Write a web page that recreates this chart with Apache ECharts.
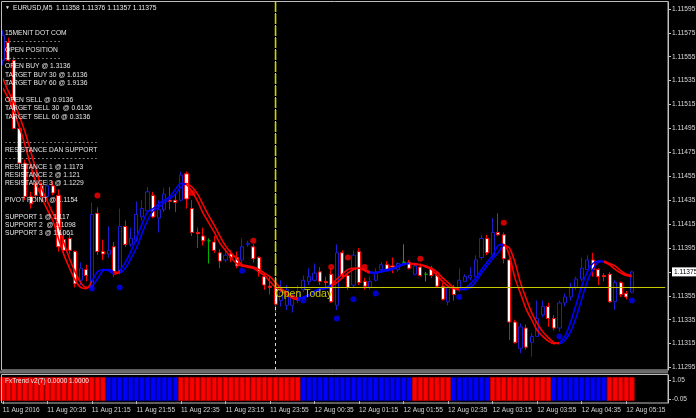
<!DOCTYPE html>
<html><head><meta charset="utf-8">
<script src="https://cdn.jsdelivr.net/npm/echarts@6/dist/echarts.min.js"></script>
<style>html,body{margin:0;padding:0;background:#000;}#c{width:696px;height:418px;}</style>
</head><body><div id="c"></div>
<script>
// ---------- data ----------
const symbolTitle = 'EURUSD,M5  1.11358 1.11376 1.11357 1.11375';
const indicatorTitle = 'FxTrend v2(7) 0.0000 1.0000';
const tickLabels = ['11 Aug 2016','11 Aug 20:35','11 Aug 21:15','11 Aug 21:55','11 Aug 22:35','11 Aug 23:15','11 Aug 23:55','12 Aug 00:35','12 Aug 01:15','12 Aug 01:55','12 Aug 02:35','12 Aug 03:15','12 Aug 03:55','12 Aug 04:35','12 Aug 05:15'];
const priceTicks = [1.11295,1.11315,1.11335,1.11355,1.11375,1.11395,1.11415,1.11435,1.11455,1.11475,1.11495,1.11515,1.11535,1.11555,1.11575,1.11595];
const indicatorTicks = [1.05, -0.05];
const currentPrice = 1.11375;
const openToday = 1.11362;
const openTodayBar = 49;
const firstBarTime = '19:55';
const barCount = 114;

const opens = [
1.11552,1.11567,1.11552,1.11495,1.11466,1.11438,1.11449,1.11447,1.11438,1.11447,
1.11439,1.11402,1.11403,1.11392,1.11368,1.11377,1.11362,1.11424,1.11392,1.11390,
1.11396,1.11375,1.11413,1.11398,1.11402,1.11421,1.11426,1.11439,1.11420,1.11427,
1.11435,1.11435,1.11435,1.11457,1.11428,1.11408,1.11405,1.11401,1.11400,1.11391,
1.11385,1.11390,1.11387,1.11385,1.11398,1.11396,1.11387,1.11371,1.11363,1.11362,
1.11351,1.11347,1.11347,1.11351,1.11360,1.11367,1.11368,1.11375,1.11367,1.11373,
1.11347,1.11391,1.11372,1.11364,1.11392,1.11367,1.11362,1.11368,1.11377,1.11381,
1.11380,1.11377,1.11383,1.11383,1.11373,1.11379,1.11373,1.11378,1.11372,1.11363,
1.11350,1.11362,1.11360,1.11367,1.11370,1.11371,1.11387,1.11403,1.11389,1.11408,
1.11406,1.11385,1.11333,1.11311,1.11328,1.11316,1.11321,1.11339,1.11346,1.11336,
1.11328,1.11349,1.11354,1.11362,1.11369,1.11377,1.11385,1.11377,1.11372,1.11373,
1.11350,1.11366,1.11357,1.11358];
const closes = [
1.11573,1.11552,1.11495,1.11466,1.11438,1.11432,1.11439,1.11438,1.11447,1.11441,
1.11396,1.11393,1.11393,1.11365,1.11378,1.11372,1.11423,1.11392,1.11390,1.11393,
1.11375,1.11413,1.11398,1.11403,1.11423,1.11428,1.11442,1.11421,1.11427,1.11440,
1.11434,1.11433,1.11456,1.11436,1.11408,1.11407,1.11401,1.11401,1.11393,1.11384,
1.11389,1.11387,1.11380,1.11396,1.11399,1.11386,1.11375,1.11364,1.11362,1.11348,
1.11358,1.11360,1.11353,1.11358,1.11368,1.11371,1.11374,1.11367,1.11366,1.11350,
1.11391,1.11372,1.11362,1.11389,1.11366,1.11363,1.11367,1.11375,1.11381,1.11377,
1.11379,1.11382,1.11383,1.11378,1.11380,1.11372,1.11373,1.11372,1.11363,1.11352,
1.11362,1.11356,1.11368,1.11371,1.11372,1.11385,1.11403,1.11391,1.11408,1.11406,
1.11386,1.11333,1.11316,1.11329,1.11312,1.11321,1.11336,1.11346,1.11336,1.11328,
1.11349,1.11354,1.11362,1.11369,1.11378,1.11385,1.11377,1.11371,1.11371,1.11350,
1.11366,1.11356,1.11354,1.11375];
const lows = [
1.11548,1.11551,1.11494,1.11464,1.11435,1.11428,1.11436,1.11433,1.11435,1.11439,
1.11392,1.11389,1.11390,1.11362,1.11364,1.11367,1.11360,1.11389,1.11385,1.11387,
1.11371,1.11373,1.11396,1.11396,1.11400,1.11418,1.11424,1.11420,1.11408,1.11425,
1.11427,1.11425,1.11434,1.11428,1.11405,1.11395,1.11397,1.11382,1.11391,1.11378,
1.11383,1.11383,1.11378,1.11379,1.11396,1.11383,1.11371,1.11360,1.11356,1.11341,
1.11346,1.11343,1.11341,1.11349,1.11358,1.11364,1.11367,1.11364,1.11362,1.11349,
1.11343,1.11370,1.11360,1.11362,1.11364,1.11360,1.11360,1.11367,1.11375,1.11376,
1.11374,1.11375,1.11382,1.11377,1.11372,1.11371,1.11367,1.11370,1.11362,1.11351,
1.11347,1.11351,1.11358,1.11367,1.11368,1.11370,1.11385,1.11389,1.11387,1.11405,
1.11382,1.11318,1.11315,1.11307,1.11310,1.11304,1.11321,1.11337,1.11329,1.11326,
1.11325,1.11346,1.11351,1.11360,1.11367,1.11375,1.11371,1.11364,1.11367,1.11349,
1.11343,1.11354,1.11352,1.11357];
const highs = [
1.11577,1.11571,1.11555,1.11497,1.11469,1.11442,1.11454,1.11450,1.11452,1.11451,
1.11444,1.11410,1.11408,1.11393,1.11383,1.11381,1.11433,1.11429,1.11402,1.11413,
1.11400,1.11428,1.11418,1.11412,1.11434,1.11435,1.11446,1.11442,1.11435,1.11445,
1.11446,1.11441,1.11459,1.11459,1.11435,1.11412,1.11412,1.11403,1.11405,1.11394,
1.11395,1.11393,1.11392,1.11403,1.11401,1.11398,1.11388,1.11374,1.11371,1.11367,
1.11368,1.11364,1.11357,1.11364,1.11372,1.11378,1.11382,1.11379,1.11371,1.11378,
1.11398,1.11393,1.11375,1.11393,1.11395,1.11370,1.11371,1.11378,1.11383,1.11384,
1.11387,1.11383,1.11398,1.11385,1.11382,1.11382,1.11375,1.11380,1.11375,1.11366,
1.11364,1.11364,1.11378,1.11373,1.11379,1.11389,1.11406,1.11406,1.11420,1.11424,
1.11408,1.11387,1.11335,1.11332,1.11331,1.11324,1.11351,1.11351,1.11349,1.11339,
1.11351,1.11357,1.11366,1.11371,1.11387,1.11389,1.11391,1.11378,1.11374,1.11375,
1.11368,1.11367,1.11359,1.11376];

const lineFast = [
1.11529,1.11520,1.11509,1.11496,1.11481,1.11464,1.11449,1.11437,1.11427,1.11418,
1.11403,1.11389,1.11378,1.11368,1.11362,1.11361,1.11367,1.11375,1.11377,1.11376,
1.11373,1.11376,1.11383,1.11392,1.11403,1.11415,1.11425,1.11428,1.11432,1.11435,
1.11438,1.11444,1.11449,1.11448,1.11442,1.11434,1.11424,1.11416,1.11408,1.11399,
1.11393,1.11387,1.11382,1.11380,1.11379,1.11378,1.11375,1.11372,1.11367,1.11362,
1.11359,1.11356,1.11353,1.11352,1.11354,1.11356,1.11359,1.11361,1.11362,1.11364,
1.11369,1.11373,1.11377,1.11378,1.11378,1.11376,1.11374,1.11374,1.11376,1.11377,
1.11378,1.11380,1.11382,1.11382,1.11381,1.11381,1.11379,1.11377,1.11372,1.11367,
1.11363,1.11361,1.11360,1.11361,1.11365,1.11370,1.11377,1.11383,1.11389,1.11397,
1.11398,1.11389,1.11370,1.11357,1.11344,1.11335,1.11326,1.11321,1.11317,1.11315,
1.11316,1.11321,1.11333,1.11348,1.11363,1.11375,1.11382,1.11384,1.11383,1.11381,
1.11377,1.11374,1.11372,1.11371];
const lineSlow = [
1.11537,1.11526,1.11517,1.11505,1.11492,1.11476,1.11460,1.11445,1.11434,1.11424,
1.11414,1.11399,1.11386,1.11375,1.11366,1.11362,1.11363,1.11369,1.11376,1.11377,
1.11375,1.11374,1.11378,1.11386,1.11395,1.11407,1.11418,1.11426,1.11429,1.11433,
1.11436,1.11440,1.11446,1.11449,1.11446,1.11440,1.11431,1.11422,1.11414,1.11405,
1.11397,1.11391,1.11386,1.11381,1.11380,1.11379,1.11377,1.11374,1.11371,1.11366,
1.11361,1.11358,1.11355,1.11353,1.11353,1.11355,1.11357,1.11360,1.11361,1.11363,
1.11366,1.11370,1.11374,1.11377,1.11378,1.11377,1.11375,1.11374,1.11375,1.11376,
1.11377,1.11379,1.11381,1.11382,1.11382,1.11381,1.11380,1.11378,1.11375,1.11370,
1.11366,1.11362,1.11361,1.11360,1.11362,1.11367,1.11374,1.11380,1.11386,1.11391,
1.11397,1.11395,1.11383,1.11366,1.11353,1.11341,1.11332,1.11325,1.11320,1.11316,
1.11315,1.11318,1.11325,1.11337,1.11352,1.11367,1.11377,1.11383,1.11384,1.11382,
1.11380,1.11376,1.11373,1.11372];
// trend sections of the two lines: [from bar, to bar, direction]
const lineSections = [[0,16.2,-1],[16.2,19.5,1],[19.5,20.8,-1],[20.8,32.7,1],[32.7,53.4,-1],[53.4,58.8,1],[58.8,65.9,-1],[65.9,72.8,1],[72.8,82.1,-1],[82.1,89.8,1],[89.8,99.7,-1],[99.7,107.9,1],[107.9,120,-1]];

const redDots = [[17,1.11439],[34,1.11441],[45,1.11401],[59,1.11379],[62,1.11387],[65,1.11379],[75,1.11386],[90,1.11416]];
const blueDots = [[16,1.11361],[21,1.11362],[43,1.11376],[54,1.11351],[60,1.11336],[63,1.11352],[67,1.11357],[82,1.11354],[100,1.11321],[113,1.11351]];

const fxTrend = [
-1,-1,-1,-1,-1,-1,-1,-1,-1,-1,
-1,-1,-1,-1,-1,-1,-1,-1,-1,1,
1,1,1,1,1,1,1,1,1,1,
1,1,-1,-1,-1,-1,-1,-1,-1,-1,
-1,-1,-1,-1,-1,-1,-1,-1,-1,-1,
-1,-1,-1,-1,1,1,1,1,1,1,
1,1,1,1,1,1,1,1,1,1,
1,1,1,1,-1,-1,-1,-1,-1,-1,
-1,1,1,1,1,1,1,1,-1,-1,
-1,-1,-1,-1,-1,-1,-1,-1,-1,1,
1,1,1,1,1,1,1,1,1,-1,
-1,-1,-1,-1];

const infoLines = [
'15MENIT DOT COM',
'- - - - - - - - - - - - - -',
'OPEN POSITION',
'- - - - - - - - - - - - - -',
'OPEN BUY @ 1.3136',
'TARGET BUY 30 @ 1.6136',
'TARGET BUY 60 @ 1.9136',
'',
'OPEN SELL @ 0.9136',
'TARGET SELL 30  @ 0.6136',
'TARGET SELL 60 @ 0.3136',
'',
'',
'- - - - - - - - - - - - - - - - - - - - - - -',
'RESISTANCE DAN SUPPORT',
'- - - - - - - - - - - - - - - - - - - - - - -',
'RESISTANCE 1 @ 1.1173',
'RESISTANCE 2 @ 1.121',
'RESISTANCE 3 @ 1.1229',
'',
'PIVOT POINT @ 1.1154',
'',
'SUPPORT 1 @ 1.117',
'SUPPORT 2  @ 1.1098',
'SUPPORT 3 @ 1.1061'];

// ---------- build ----------
const RED = '#ff0000', BLUE = '#0000ff', YELLOW = '#c8c800';
const FONT = '"Liberation Sans", Arial, "DejaVu Sans", sans-serif';
const categories = [];
(function(){
  const [hh, mm] = firstBarTime.split(':').map(Number);
  let m0 = hh*60 + mm;
  for (let i = 0; i < barCount; i++) {
    let m = m0 + 5*i;
    const day = m >= 1440 ? '12 Aug' : '11 Aug';
    m = m % 1440;
    categories.push(day + ' ' + String(Math.floor(m/60)).padStart(2,'0') + ':' + String(m%60).padStart(2,'0'));
  }
  for (let k = 1; k <= 6; k++) categories.push('pad' + k);
})();
const candles = opens.map((o, i) => [o, closes[i], lows[i], highs[i]]);
const fxBars = fxTrend.map(d => ({value: 1, itemStyle: {color: d > 0 ? BLUE : RED, borderColor: d > 0 ? '#0000a0' : '#b80000', borderWidth: 1}}));
const pieces = lineSections.map(s => ({gte: s[0], lt: s[1], color: s[2] > 0 ? BLUE : RED}));
const lastIdx = categories.length - 1;
const yTop = 1.116008, yBottom = 1.112929;

const chart = echarts.init(document.getElementById('c'), null, {renderer: 'canvas'});
chart.setOption({
  backgroundColor: '#000000',
  animation: false,
  grid: [
    {left: 0, right: 28, top: 2, height: 368, outerBoundsMode: 'none'},
    {left: 0, right: 28, top: 375, height: 28, outerBoundsMode: 'none'}
  ],
  xAxis: [
    {type: 'category', gridIndex: 0, data: categories, boundaryGap: true,
     axisLine: {show: false}, axisTick: {show: false}, axisLabel: {show: false}, splitLine: {show: false}},
    {type: 'category', gridIndex: 1, data: categories, boundaryGap: true,
     axisLine: {show: false},
     axisTick: {show: true, alignWithLabel: true, interval: 7, length: 3, lineStyle: {color: '#bdbdbd'}},
     axisLabel: {interval: 7, align: 'left', margin: 4, color: '#d4d4d4', fontSize: 6.6, fontFamily: FONT,
       formatter: (v, idx) => (idx % 8 === 0 && tickLabels[idx/8]) ? tickLabels[idx/8] : ''},
     splitLine: {show: false}}
  ],
  yAxis: [
    {type: 'value', gridIndex: 0, position: 'right', min: yBottom, max: yTop, scale: true,
     axisLine: {show: true, lineStyle: {color: '#c4c4c4'}},
     axisTick: {show: true, customValues: priceTicks, length: 3, lineStyle: {color: '#c4c4c4'}},
     axisLabel: {customValues: priceTicks, margin: 4, color: '#d8d8d8', fontSize: 6.6, fontFamily: FONT,
       formatter: v => Math.abs(v - currentPrice) < 1e-8 ? '{hl|' + v.toFixed(5) + '}' : v.toFixed(5),
       rich: {hl: {backgroundColor: '#ffffff', color: '#000000', fontSize: 6.6, fontFamily: FONT, padding: [1, 5, 1, 2]}}},
     splitLine: {show: false}},
    {type: 'value', gridIndex: 1, min: -0.08, max: 1.08, show: false},
    {type: 'value', gridIndex: 1, position: 'right', min: -0.2816, max: 1.3395,
     axisLine: {show: true, lineStyle: {color: '#c4c4c4'}},
     axisTick: {show: true, customValues: indicatorTicks, length: 3, lineStyle: {color: '#c4c4c4'}},
     axisLabel: {customValues: indicatorTicks, margin: 4, color: '#d8d8d8', fontSize: 6.6, fontFamily: FONT,
       formatter: v => v.toFixed(2)},
     splitLine: {show: false}}
  ],
  visualMap: [{type: 'piecewise', show: false, dimension: 0, seriesIndex: [1, 2], pieces: pieces}],
  series: [
    {type: 'candlestick', xAxisIndex: 0, yAxisIndex: 0, data: candles, barWidth: 3.6, z: 2,
     itemStyle: {color: '#000000', color0: '#ffffff', borderColor: '#1c1cd0', borderColor0: RED, borderColorDoji: '#00b000', borderWidth: 1},
     markLine: {silent: true, symbol: ['none', 'none'], label: {show: false},
       data: [
         {yAxis: currentPrice, lineStyle: {color: '#808080', width: 1.5, type: 'solid'}, label: {show: false}},
         {xAxis: openTodayBar, lineStyle: {color: '#dcdcdc', width: 1, type: [3, 3]}, label: {show: false}}
       ]}},
    {type: 'line', xAxisIndex: 0, yAxisIndex: 0, data: lineFast, symbol: 'none', smooth: 0.3, z: 3,
     lineStyle: {width: 1.6}},
    {type: 'line', xAxisIndex: 0, yAxisIndex: 0, data: lineSlow, symbol: 'none', smooth: 0.3, z: 3,
     lineStyle: {width: 1.6}},
    {type: 'scatter', xAxisIndex: 0, yAxisIndex: 0, data: redDots, symbol: 'circle', symbolSize: 6, z: 4,
     itemStyle: {color: RED}},
    {type: 'scatter', xAxisIndex: 0, yAxisIndex: 0, data: blueDots, symbol: 'circle', symbolSize: 6, z: 4,
     itemStyle: {color: BLUE}},
    {type: 'bar', xAxisIndex: 1, yAxisIndex: 1, data: fxBars, barWidth: '100%', barCategoryGap: '0%', z: 2},
    {type: 'line', xAxisIndex: 0, yAxisIndex: 0, z: 9, symbol: 'none', silent: true, clip: false,
     data: [[openTodayBar, yTop], [openTodayBar, openToday]],
     lineStyle: {color: '#d2d200', width: 1.6, type: [10, 2]}},
    {type: 'line', xAxisIndex: 0, yAxisIndex: 0, data: [], z: 10,
     markLine: {silent: true, symbol: ['none', 'none'], label: {show: false},
       data: [
         [{coord: [openTodayBar, openToday], lineStyle: {color: YELLOW, width: 1, type: 'solid'},
           label: {show: true, formatter: 'Open Today', position: 'insideStartBottom', color: YELLOW, fontSize: 10.5, fontFamily: FONT, distance: [0, 1]}},
          {coord: [lastIdx, openToday]}]
       ]}}
  ],
  graphic: [
    {type: 'rect', z: 50, silent: true, shape: {x: 1.5, y: 1.5, width: 666.5, height: 368.5}, style: {fill: null, stroke: '#bdbdbd', lineWidth: 1}},
    {type: 'rect', z: 50, silent: true, shape: {x: 0, y: 370.5, width: 668, height: 3}, style: {fill: '#6e6e6e'}},
    {type: 'rect', z: 50, silent: true, shape: {x: 1.5, y: 374.5, width: 666.5, height: 28.5}, style: {fill: null, stroke: '#bdbdbd', lineWidth: 1}},
    {type: 'text', z: 60, silent: true, x: 5, y: 8, style: {text: '\u25BC', fill: '#e8e8e8', font: '5px ' + FONT, verticalAlign: 'middle'}},
    {type: 'text', z: 60, silent: true, x: 13, y: 8, style: {text: symbolTitle, fill: '#ececec', font: '6.7px ' + FONT, verticalAlign: 'middle'}},
    {type: 'text', z: 60, silent: true, x: 5, y: 29, style: {text: infoLines.join('\n'), fill: '#e6e6e6', font: '6.7px ' + FONT, lineHeight: 8.35, verticalAlign: 'top'}},
    {type: 'text', z: 60, silent: true, x: 5, y: 381, style: {text: indicatorTitle, fill: '#f0f0f0', font: '6.5px ' + FONT, verticalAlign: 'middle'}}
  ]
});
</script>
</body></html>
